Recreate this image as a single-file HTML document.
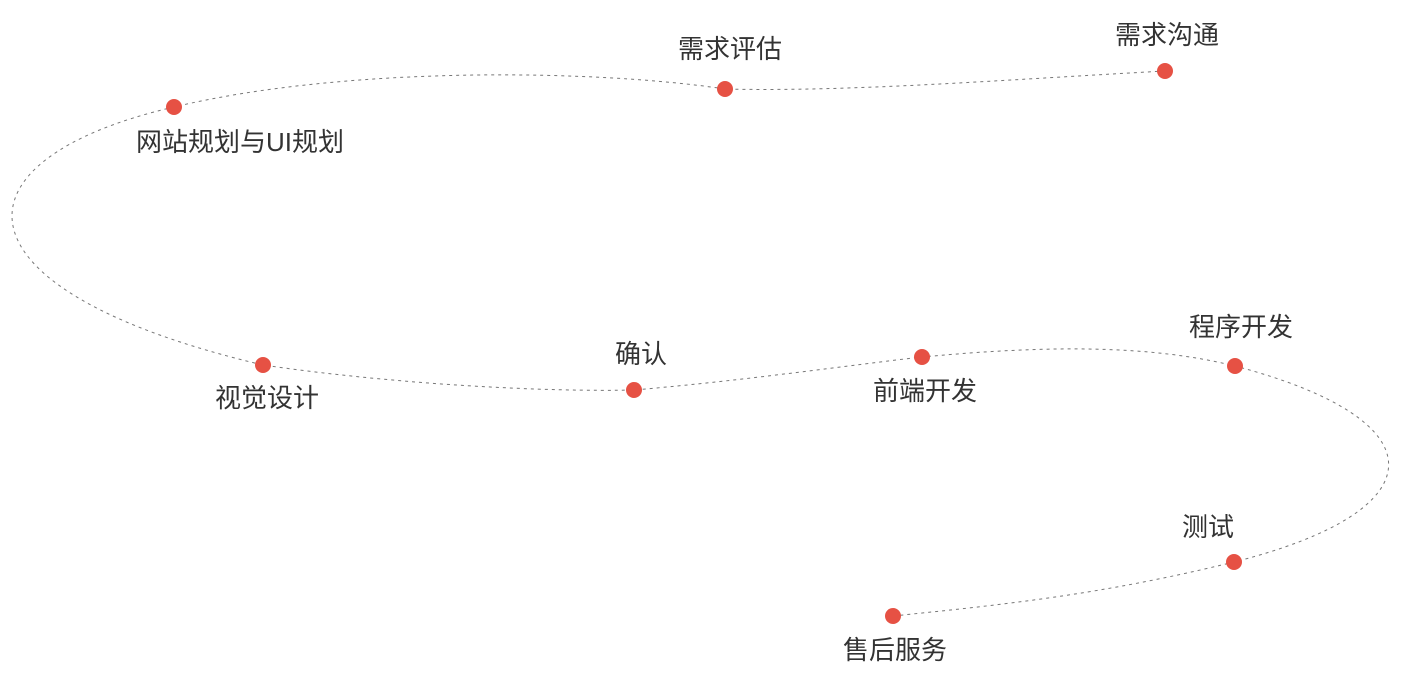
<!DOCTYPE html>
<html><head><meta charset="utf-8"><style>
html,body{margin:0;padding:0;background:#fff;}
svg{display:block;}
text{font-family:"Liberation Sans","Noto Sans CJK SC",sans-serif;font-size:26px;fill:#333;text-anchor:middle;}
</style></head><body>
<svg width="1401" height="678" viewBox="0 0 1401 678">
<path d="M1165,71 C1000,80 850,92 725,89 C600,70 350,65 174,107 C-55,160 -55,290 263,365 C400,385 550,392 634,390 C750,380 850,365 922,357 C1050,345 1150,345 1235,366 C1440,420 1440,510 1234,562 C1100,595 1000,605 893,616" fill="none" stroke="#777" stroke-width="1" stroke-dasharray="3,4"/>
<g fill="#e65144">
<circle cx="1165" cy="71" r="8"/><circle cx="725" cy="89" r="8"/><circle cx="174" cy="107" r="8"/>
<circle cx="263" cy="365" r="8"/><circle cx="634" cy="390" r="8"/><circle cx="922" cy="357" r="8"/>
<circle cx="1235" cy="366" r="8"/><circle cx="1234" cy="562" r="8"/><circle cx="893" cy="616" r="8"/>
</g>
<text x="1167" y="44">需求沟通</text>
<text x="730" y="58">需求评估</text>
<text x="240" y="151">网站规划与UI规划</text>
<text x="267" y="407">视觉设计</text>
<text x="641" y="363">确认</text>
<text x="925" y="400">前端开发</text>
<text x="1241" y="336">程序开发</text>
<text x="1208" y="536">测试</text>
<text x="895" y="659">售后服务</text>
</svg>
</body></html>
